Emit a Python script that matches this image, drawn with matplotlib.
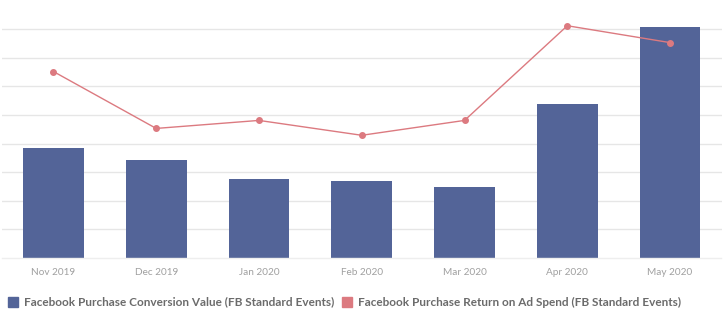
import matplotlib
matplotlib.use("Agg")
import matplotlib.pyplot as plt
from matplotlib.patches import Rectangle
import numpy as np

categories = ["Nov 2019", "Dec 2019", "Jan 2020", "Feb 2020", "Mar 2020", "Apr 2020", "May 2020"]
conversion_value = [3.83, 3.41, 2.75, 2.68, 2.47, 5.37, 8.08]
roas = [6.52, 4.53, 4.81, 4.29, 4.81, 8.12, 7.53]
legend_labels = ["Facebook Purchase Conversion Value (FB Standard Events)",
                 "Facebook Purchase Return on Ad Spend (FB Standard Events)"]

bar_color = "#536498"
line_color = "#dc7a80"

W, H = 726, 326
fig = plt.figure(figsize=(W / 100, H / 100), dpi=100)
ax = fig.add_axes([2 / W, (H - 258) / H, (721.5 - 2) / W, 258 / H])

x = np.arange(len(categories))
ax.bar(x, conversion_value, width=0.59, color=bar_color, zorder=2)
ax.plot(x, roas, color=line_color, lw=1.0, marker="o", ms=4, zorder=3)

ax.set_xlim(-0.5, len(categories) - 0.5)
ax.set_ylim(0, 9.02)
ax.set_yticks(np.arange(1, 9))
ax.yaxis.grid(True, color="#e6e6e6", lw=1)
ax.set_axisbelow(True)
ax.tick_params(axis="y", left=False, labelleft=False)
ax.tick_params(axis="x", length=0, pad=7)
ax.set_xticks(x)
ax.set_xticklabels(categories, fontsize=7.2, color="#a0a0a0", family="Lato")
for s in ["top", "right", "left"]:
    ax.spines[s].set_visible(False)
ax.spines["bottom"].set_color("#eeeeee")
ax.spines["bottom"].set_linewidth(1)

# legend
y_leg = 1 - 302 / H
for sx, tx, col, lab in [(8, 24, bar_color, legend_labels[0]), (342, 358, line_color, legend_labels[1])]:
    fig.patches.append(Rectangle((sx / W, (H - 307) / H), 10 / W, 10 / H,
                                 transform=fig.transFigure, color=col))
    fig.text(tx / W, y_leg, lab, fontsize=8.45, fontweight="bold", color="#6b6b6b",
             va="center", ha="left", family="Lato")

fig.savefig("out.png", dpi=100)
